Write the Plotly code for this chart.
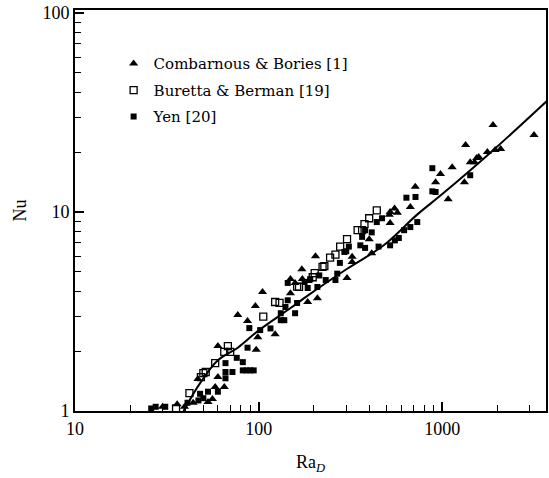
import plotly.graph_objects as go

# ---- data (Ra_D, Nu) ----
comb_ra = [30, 36, 39.5, 44, 53, 56, 46.7, 58, 65, 60, 60, 77, 87, 97, 96, 105, 123, 99,
           149, 158, 173, 172, 149, 186, 185, 209, 204, 303, 323, 323, 400, 413,
           520, 550, 570, 515, 520, 670, 713, 920, 978, 1132, 1077, 1320, 1340,
           1420, 1500, 1540, 1580, 1760, 1940, 2080, 1890, 3160]
comb_nu = [1.05, 1.08, 1.05, 1.1, 1.11, 1.15, 1.45, 1.32, 1.32, 1.48, 2.12, 3.04, 2.83, 2.03, 3.37, 3.96, 2.43, 2.35,
           3.9, 4.4, 4.6, 5.15, 4.6, 4.5, 3.53, 3.69, 6.0, 4.66, 5.95, 5.6, 7.3, 6.2,
           10.0, 10.4, 9.9, 9.7, 8.8, 10.6, 13.4, 14.1, 15.5, 16.8, 11.6, 14.1, 21.7,
           17.8, 17.8, 18.7, 18.9, 20.0, 20.5, 20.7, 27.4, 24.4]

bur_ra = [35.5, 42, 48.5, 50, 51.5, 58, 65, 68, 70, 106, 123, 130, 162, 166, 197, 202,
          223, 228, 245, 262, 278, 303, 346, 366, 377, 400, 440]
bur_nu = [1.03, 1.23, 1.48, 1.55, 1.57, 1.74, 1.98, 2.12, 1.98, 2.98, 3.53, 3.49, 4.22, 4.2, 4.7, 4.93,
          5.3, 5.35, 5.9, 6.1, 6.7, 7.3, 8.1, 8.1, 8.7, 9.3, 10.2]

yen_ra = [26, 27.5, 31, 41, 47, 50, 48, 53, 60, 66, 66, 72, 66, 76, 82, 82, 86, 90, 94,
          87, 89, 102, 116, 132, 138, 132, 158, 140, 144, 162, 144, 178, 191, 185, 209,
          232, 262, 268, 214, 277, 293, 300, 310, 358, 366, 380, 380, 413, 450, 520,
          552, 580, 620, 670, 731, 470, 440, 638, 715, 883, 920, 1420, 883]
yen_nu = [1.03, 1.05, 1.05, 1.1, 1.13, 1.16, 1.22, 1.25, 1.25, 1.46, 1.57, 1.57, 1.74, 1.85, 1.76, 1.6, 1.6, 1.6, 1.6,
          2.08, 2.61, 2.55, 2.6, 2.86, 2.86, 3.1, 3.1, 3.33, 3.6, 3.49, 4.4, 4.45, 4.6, 4.15, 4.2,
          4.55, 4.55, 4.9, 4.8, 5.55, 6.3, 6.35, 6.7, 6.8, 7.5, 6.6, 8.1, 7.9, 6.7, 6.8,
          7.2, 7.4, 8.1, 8.4, 8.9, 9.3, 8.9, 11.8, 11.9, 12.7, 12.6, 15.3, 16.6]

curve_ra = [39, 48, 60, 77, 99, 150, 185, 305, 480, 730, 1000, 1900, 3700]
curve_nu = [1.0, 1.38, 1.80, 2.08, 2.52, 3.3, 3.8, 5.2, 6.8, 9.7, 12.3, 20.5, 36]

x_ticks = [10, 100, 1000]
y_ticks = [1, 10, 100]

legend_names = ["Combarnous & Bories [1]", "Buretta & Berman [19]", "Yen [20]"]

fig = go.Figure()
fig.add_trace(go.Scatter(x=curve_ra, y=curve_nu, mode="lines", line=dict(color="black", width=2),
                         showlegend=False, line_shape="spline"))
fig.add_trace(go.Scatter(x=comb_ra, y=comb_nu, mode="markers", name=legend_names[0],
                         marker=dict(symbol="triangle-up", size=8, color="black"),
                         legendgroup="a"))
fig.add_trace(go.Scatter(x=bur_ra, y=bur_nu, mode="markers", name=legend_names[1],
                         marker=dict(symbol="square-open", size=7, color="black",
                                     line=dict(width=1.3, color="#333")),
                         legendgroup="b"))
fig.add_trace(go.Scatter(x=yen_ra, y=yen_nu, mode="markers", name=legend_names[2],
                         marker=dict(symbol="square", size=6, color="black"),
                         legendgroup="c"))

minor_x = [m * 10 ** e for e in range(1, 4) for m in range(2, 10)]
minor_y = [m * 10 ** e for e in range(0, 2) for m in range(2, 10)]

axis_common = dict(showgrid=False, zeroline=False, showline=True, linecolor="black", linewidth=2,
                   mirror=True, ticks="inside", ticklen=9, tickwidth=1.5, tickcolor="black",
                   tickfont=dict(family="Liberation Serif", size=18, color="black"))

fig.update_xaxes(type="log", range=[1, 3.565], tickvals=x_ticks, ticktext=[str(v) for v in x_ticks],
                 minor=dict(ticks="inside", ticklen=6, tickwidth=1.2, tickcolor="black", tickvals=minor_x),
                 title=dict(text="Ra<sub><i>D</i></sub>", font=dict(family="Liberation Serif", size=18, color="black"),
                            standoff=18),
                 **axis_common)
fig.update_yaxes(type="log", range=[0, 2.015], tickvals=y_ticks, ticktext=[str(v) for v in y_ticks],
                 minor=dict(ticks="inside", ticklen=6, tickwidth=1.2, tickcolor="black", tickvals=minor_y),
                 title=dict(text="Nu", font=dict(family="Liberation Serif", size=18, color="black"),
                            standoff=11),
                 **axis_common)

fig.update_layout(
    width=549, height=478,
    margin=dict(l=75, r=1, t=10, b=67),
    paper_bgcolor="white", plot_bgcolor="white",
    legend=dict(x=0.082, y=0.907, xanchor="left", yanchor="top", bgcolor="rgba(0,0,0,0)",
                font=dict(family="DejaVu Serif", size=15, color="black"),
                tracegroupgap=4, itemwidth=30),
)

fig.write_html("out.html", config={"displayModeBar": False},
               post_script="document.body.style.margin='0';document.body.style.overflow='hidden';")
